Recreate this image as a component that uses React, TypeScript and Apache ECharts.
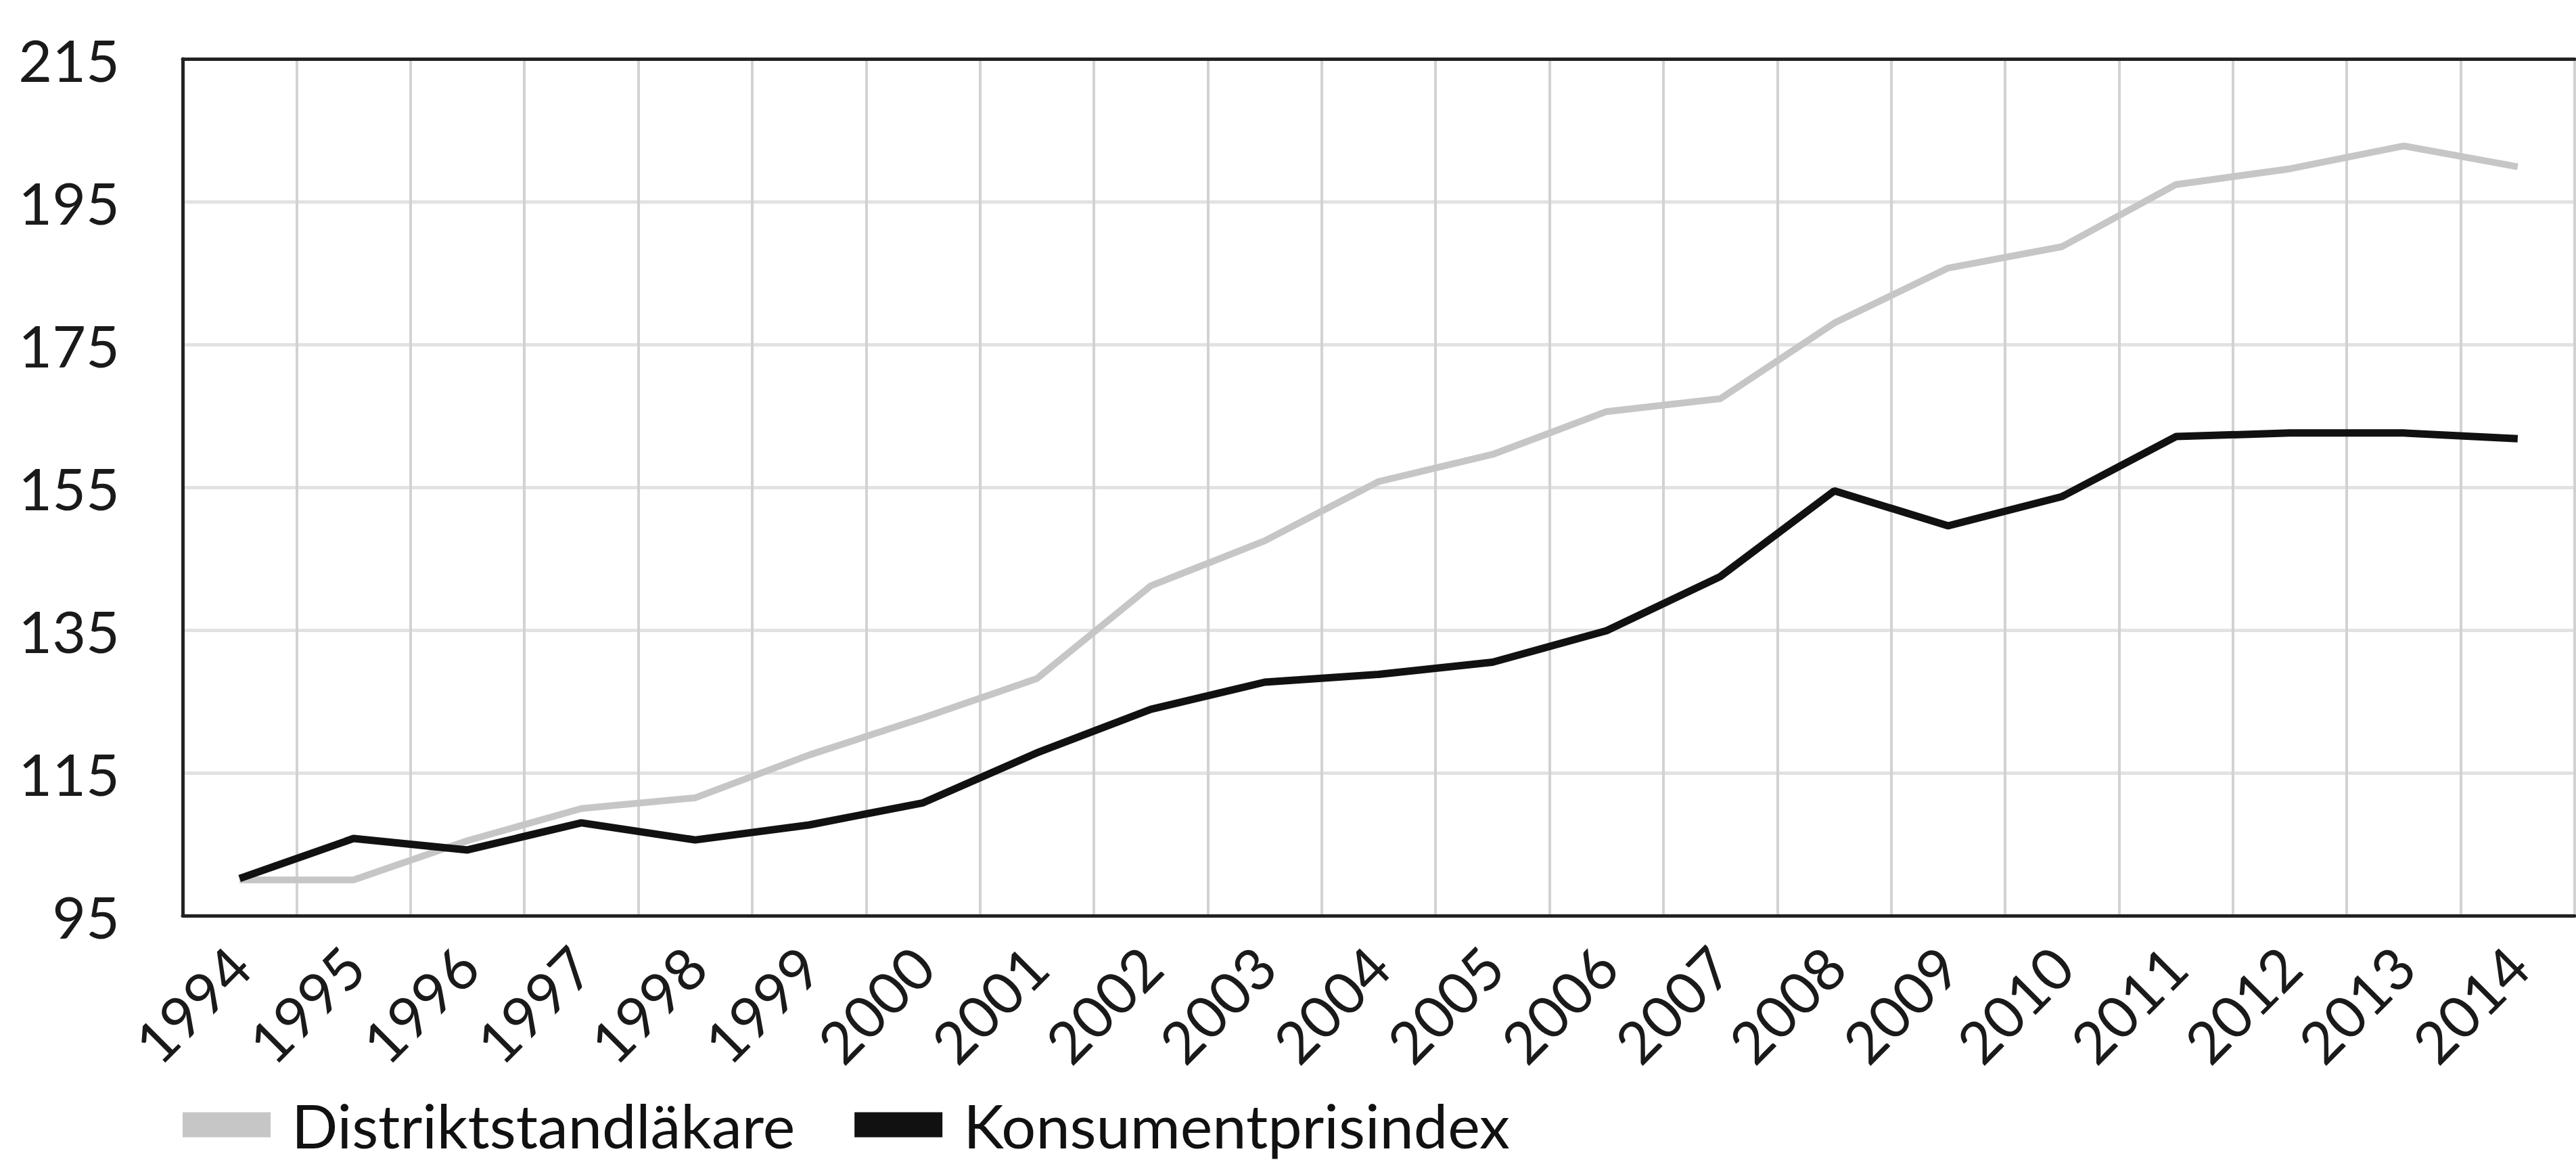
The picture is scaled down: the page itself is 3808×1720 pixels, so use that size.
import React, { useEffect, useRef } from "react";
import * as echarts from "echarts";

const years = ["1994","1995","1996","1997","1998","1999","2000","2001","2002","2003","2004","2005","2006","2007","2008","2009","2010","2011","2012","2013","2014"];
const distriktstandlakare = [100, 100, 105.5, 110, 111.5, 117.5, 122.7, 128.2, 141.2, 147.5, 155.8, 159.6, 165.6, 167.4, 178, 185.7, 188.7, 197.4, 199.6, 202.8, 199.9];
const konsumentprisindex = [100.2, 105.8, 104.2, 108, 105.6, 107.7, 110.8, 117.8, 123.9, 127.7, 128.8, 130.5, 134.9, 142.5, 154.5, 149.6, 153.7, 162.1, 162.6, 162.6, 161.8];
const seriesNames = ["Distriktstandläkare", "Konsumentprisindex"];
const yMin = 95;
const yMax = 215;
const yStep = 20;

export default function App() {
  const ref = useRef<HTMLDivElement>(null);
  useEffect(() => {
    if (!ref.current) return;
    const chart = echarts.init(ref.current, null, { renderer: "svg" });
    const font = "Lato, 'Open Sans', sans-serif";
    chart.setOption({
      animation: false,
      backgroundColor: "#ffffff",
      textStyle: { fontFamily: font },
      grid: { left: 270, right: 2, top: 87, bottom: 367, containLabel: false },
      legend: {
        left: 265,
        top: 1612,
        icon: "rect",
        itemWidth: 130,
        itemHeight: 37,
        itemGap: 88,
        textStyle: { fontSize: 90, color: "#111", fontFamily: font, padding: [0, 0, 0, 26] },
        data: seriesNames,
      },
      xAxis: [
        {
          type: "category",
          data: years,
          boundaryGap: true,
          position: "bottom",
          axisLine: { show: true, lineStyle: { color: "#222", width: 5 } },
          axisTick: { show: false },
          axisLabel: { rotate: 45, margin: 60, fontSize: 86, color: "#1a1a1a", fontFamily: font, interval: 0 },
          splitLine: { show: true, interval: 0, lineStyle: { color: "#d2d2d2", width: 4 } },
        },
        {
          type: "category",
          data: years,
          position: "top",
          axisLine: { show: true, lineStyle: { color: "#222", width: 5 } },
          axisTick: { show: false },
          axisLabel: { show: false },
          splitLine: { show: false },
        },
      ],
      yAxis: {
        type: "value",
        min: yMin,
        max: yMax,
        interval: yStep,
        axisLine: { show: true, lineStyle: { color: "#222", width: 5 } },
        axisTick: { show: false },
        axisLabel: { margin: 93, fontSize: 86, color: "#1a1a1a", fontFamily: font },
        splitLine: { show: true, lineStyle: { color: "#e2e2e2", width: 5 } },
      },
      series: [
        {
          name: seriesNames[0],
          type: "line",
          data: distriktstandlakare,
          symbol: "none",
          color: "#c6c6c6",
          lineStyle: { color: "#c6c6c6", width: 10 },
          z: 3,
        },
        {
          name: seriesNames[1],
          type: "line",
          data: konsumentprisindex,
          symbol: "none",
          color: "#111111",
          lineStyle: { color: "#111111", width: 11 },
          z: 4,
        },
      ],
    });
    return () => chart.dispose();
  }, []);
  return (
    <div
      ref={ref}
      style={{ position: "absolute", left: 0, top: 0, width: 3808, height: 1720, overflow: "hidden" }}
    />
  );
}
